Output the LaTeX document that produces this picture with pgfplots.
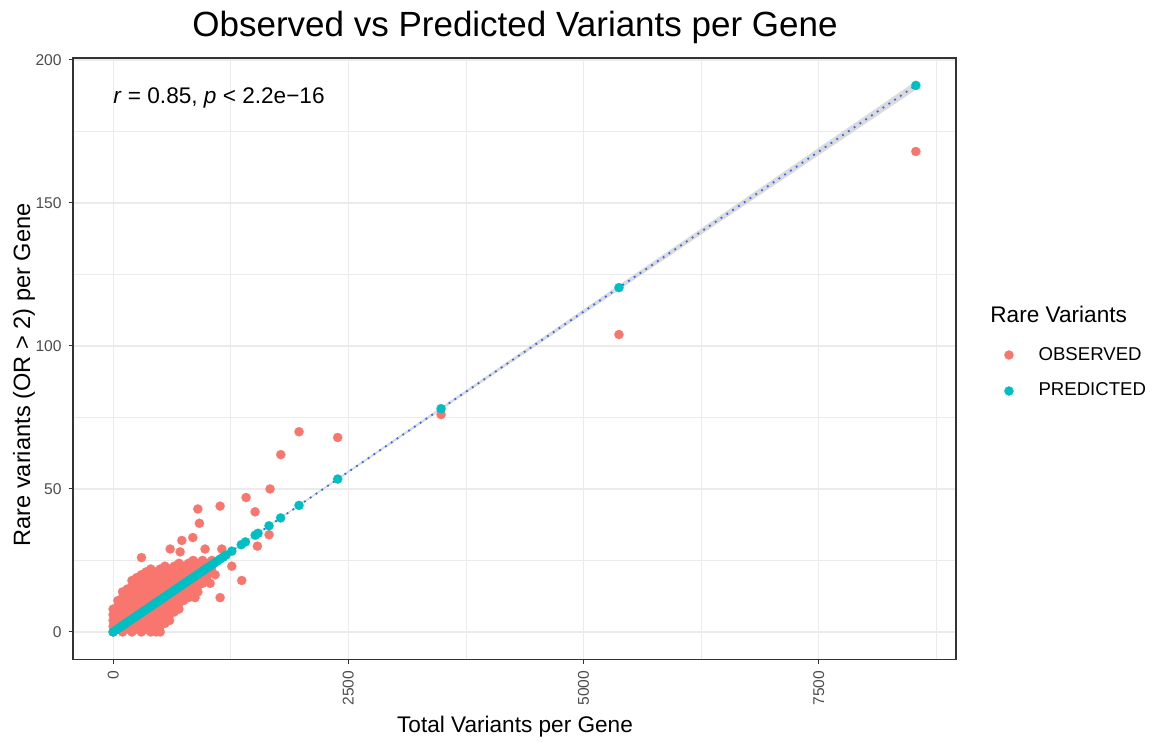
\documentclass[border=0pt]{standalone}
\usepackage{fontspec}
\setmainfont{Liberation Sans}
\usepackage{pgfplots}
\pgfplotsset{compat=1.18}
\definecolor{obs}{HTML}{F8766D}
\definecolor{pred}{HTML}{00BFC4}
\definecolor{smooth}{HTML}{3366FF}
\definecolor{gridc}{HTML}{EBEBEB}
\definecolor{tickc}{HTML}{4D4D4D}
\definecolor{border}{HTML}{333333}
\begin{document}
\begin{tikzpicture}
\useasboundingbox (0,0) rectangle (577.5pt,371pt);
\begin{axis}[
 at={(36.5pt,41.35pt)}, anchor=south west,
 scale only axis, width=441.5pt, height=300.6pt,
 xmin=-427, xmax=8960, ymin=-9.56, ymax=200.66,
 xtick={0,2500,5000,7500}, ytick={0,50,100,150,200},
 minor xtick={1250,3750,6250,8750}, minor ytick={25,75,125,175},
 grid=both,
 major grid style={gridc, line width=0.55pt},
 minor grid style={gridc, line width=0.3pt},
 axis line style={border, line width=0.6pt},
 tick align=outside, major tick length=2.2pt, minor tick length=0pt,
 tick style={border, line width=0.5pt},
 xtick pos=left, ytick pos=left,
 ticklabel style={font=\fontsize{7.8}{8.5}\selectfont, text=tickc},
 xticklabel style={rotate=90, anchor=east},
 /pgf/number format/assume math mode=true,
 /pgf/number format/1000 sep={},
 scaled ticks=false,
 legend style={draw=none, fill=none, at={(axis description cs:1.0475,0.4762)}, anchor=west,
   font=\fontsize{9.3}{11}\selectfont, row sep=6pt,
   /tikz/every odd column/.style={column sep=10.5pt}},
 legend cell align=left,
]
\addplot[only marks, mark=*, mark size=2.3pt, mark options={draw=obs, fill=obs, line width=0.1pt}] coordinates {
(0,0)(0,2)(0,4)(0,6)(0,8)
(50,1)(50,3)(50,5)(50,7)(50,9)(50,11)
(100,0)(100,2)(100,4)(100,6)(100,8)(100,10)(100,12)(100,14)
(150,1)(150,3)(150,5)(150,7)(150,9)(150,11)(150,13)(150,15)
(200,0)(200,2)(200,4)(200,6)(200,8)(200,10)(200,12)(200,14)(200,16)(200,18)
(250,1)(250,3)(250,5)(250,7)(250,9)(250,11)(250,13)(250,15)(250,17)(250,19)
(300,0)(300,2)(300,4)(300,6)(300,8)(300,10)(300,12)(300,14)(300,16)(300,18)(300,20)
(350,1)(350,3)(350,5)(350,7)(350,9)(350,11)(350,13)(350,15)(350,17)(350,19)(350,21)
(400,0)(400,2)(400,4)(400,6)(400,8)(400,10)(400,12)(400,14)(400,16)(400,18)(400,20)(400,22)
(450,1)(450,3)(450,5)(450,7)(450,9)(450,11)(450,13)(450,15)(450,17)(450,19)(450,21)(460,0)
(500,0)(500,2)(500,4)(500,6)(500,8)(500,10)(500,12)(500,14)(500,16)(500,18)(500,20)(500,22)
(550,3)(550,5)(550,7)(550,9)(550,11)(550,13)(550,15)(550,17)(550,19)(550,21)(550,23)
(600,4)(600,6)(600,8)(600,10)(600,12)(600,14)(600,16)(600,18)(600,20)(600,22)
(650,7)(650,9)(650,11)(650,13)(650,15)(650,17)(650,19)(650,21)(650,23)
(700,8)(700,10)(700,12)(700,14)(700,16)(700,18)(700,20)(700,22)(700,24)
(750,11)(750,13)(750,15)(750,17)(750,19)(750,21)(750,23)
(800,12)(800,14)(800,16)(800,18)(800,20)(800,22)(800,24)
(850,13)(850,15)(850,17)(850,19)(850,21)(850,23)(850,25)
(900,14)(900,16)(900,18)(900,20)(900,22)(900,24)
(950,17)(950,19)(950,21)(950,23)(950,25)
(1000,18)(1000,20)(1000,22)(1000,24)
(1050,21)(1050,23)(1050,25)
(301,26)(606,29)(712,28)(730,32)(847,33)(900,43)(917,38)(977,29)(1031,17)(1084,20)
(871,12)(1137,12)(1137,44)(1155,29)(1261,23)(1367,18)(1413,47)(1509,42)(1533,30)
(1657,34)(1668,50)(1782,62)(1976,70)(2387,68)(3486,76)(5377,104)(8533,168)
};
\addlegendentry{OBSERVED}
\addplot[only marks, mark=*, mark size=2.3pt, mark options={draw=pred, fill=pred, line width=0.1pt}] coordinates {
(0,0)(30,0.67)(60,1.34)(90,2.02)(120,2.69)(150,3.36)(180,4.03)(210,4.70)(240,5.38)(270,6.05)
(300,6.72)(330,7.39)(360,8.06)(390,8.74)(420,9.41)(450,10.08)(480,10.75)(510,11.42)(540,12.10)
(570,12.77)(600,13.44)(630,14.11)(660,14.78)(690,15.46)(720,16.13)(750,16.80)(780,17.47)
(810,18.14)(840,18.82)(870,19.49)(900,20.16)(930,20.83)(960,21.50)(990,22.18)(1020,22.85)
(1050,23.52)(1080,24.19)(1110,24.86)(1140,25.54)(1170,26.21)(1200,26.88)
(1261,28.25)(1362,30.51)(1406,31.49)(1510,33.82)(1540,34.50)(1657,37.12)(1780,39.87)
(1976,44.26)(2387,53.47)(3486,78.09)(5377,120.4)(8533,191.1)
};
\addlegendentry{PREDICTED}
\addplot[forget plot, fill=gray!35, draw=none, opacity=0.8] coordinates {
(0,-0.3)(1000,22.1)(2000,44.5)(4000,89.0)(6000,133.4)(8533,189.6)
(8533,192.6)(6000,135.4)(4000,90.2)(2000,45.1)(1000,22.7)(0,0.3)
} -- cycle;
\addplot[forget plot, draw=smooth, line width=0.9pt, dash pattern=on 0.9pt off 2.6pt] coordinates {(0,0)(8533,191.1)};
\end{axis}
\node[font=\fontsize{17.5}{20}\selectfont, anchor=base] at (257.5pt,352.5pt) {Observed vs Predicted Variants per Gene};
\node[font=\fontsize{11.3}{13}\selectfont, anchor=base] at (257.5pt,4.5pt) {Total Variants per Gene};
\node[font=\fontsize{11.8}{13}\selectfont, anchor=base, rotate=90] at (15pt,183.5pt) {Rare variants (OR > 2) per Gene};
\node[font=\fontsize{11.3}{13}\selectfont, anchor=base west, inner sep=0pt] at (56.5pt,319pt) {\textit{r} = 0.85, \textit{p} < 2.2e−16};
\node[font=\fontsize{11.3}{13}\selectfont, anchor=base west, inner sep=0pt] at (495pt,209.5pt) {Rare Variants};
\end{tikzpicture}
\end{document}
